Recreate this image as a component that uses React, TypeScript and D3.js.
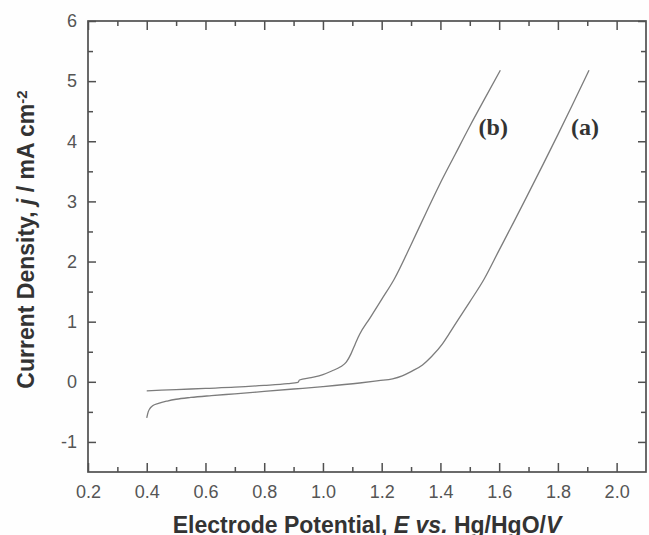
import * as d3 from 'd3'
import { useEffect, useRef } from 'react'

// curve (a): E (V vs Hg/HgO), j (mA cm-2)
const potentialA = [
  0.4, 0.405, 0.41, 0.42, 0.44, 0.47, 0.5, 0.55, 0.62, 0.7, 0.8, 0.9, 1.0, 1.125, 1.19, 1.237, 1.27, 1.3,
  1.339, 1.37, 1.407, 1.43, 1.46, 1.5, 1.549, 1.6, 1.65, 1.691, 1.75, 1.8, 1.85, 1.906,
]
const currentA = [
  -0.6, -0.5, -0.45, -0.4, -0.36, -0.32, -0.29, -0.26, -0.23, -0.2, -0.16, -0.12, -0.08, -0.02, 0.02, 0.05,
  0.1, 0.17, 0.28, 0.42, 0.63, 0.8, 1.03, 1.33, 1.71, 2.19, 2.66, 3.05, 3.62, 4.11, 4.61, 5.18,
]

// curve (b)
const potentialB = [
  0.4, 0.5, 0.6, 0.7, 0.8, 0.88, 0.915, 0.92, 0.96, 1.0, 1.03, 1.06, 1.08, 1.095, 1.11, 1.125, 1.16, 1.2,
  1.243, 1.3, 1.35, 1.396, 1.45, 1.5, 1.55, 1.604,
]
const currentB = [
  -0.15, -0.13, -0.11, -0.09, -0.06, -0.03, -0.01, 0.03, 0.07, 0.12, 0.18, 0.25, 0.33, 0.46, 0.63, 0.79, 1.06,
  1.37, 1.71, 2.28, 2.8, 3.27, 3.78, 4.25, 4.7, 5.18,
]

const xTicks = [0.2, 0.4, 0.6, 0.8, 1.0, 1.2, 1.4, 1.6, 1.8, 2.0]
const xMinor = [0.3, 0.5, 0.7, 0.9, 1.1, 1.3, 1.5, 1.7, 1.9]
const yTicks = [-1, 0, 1, 2, 3, 4, 5, 6]
const yMinor = [-0.5, 0.5, 1.5, 2.5, 3.5, 4.5, 5.5]

const curveLabels = [
  { text: '(b)', x: 1.53, y: 4.1 },
  { text: '(a)', x: 1.845, y: 4.1 },
]

const App = () => {
  const ref = useRef<SVGSVGElement>(null)

  useEffect(() => {
    const width = 649
    const height = 535
    const margin = { top: 21, right: 2, bottom: 63, left: 88 }
    const svg = d3.select(ref.current)
    svg.selectAll('*').remove()
    svg.attr('width', width).attr('height', height)

    svg.append('rect').attr('width', width).attr('height', height).attr('fill', '#fefefe')

    const x = d3.scaleLinear().domain([0.2, 2.1]).range([margin.left, width - margin.right - 1])
    const y = d3.scaleLinear().domain([-1.5, 6]).range([height - margin.bottom, margin.top])

    const axisColor = '#505050'
    const labelColor = '#555'

    const style = (g: any, showLabels: boolean) => {
      g.select('.domain').remove()
      g.selectAll('line').attr('stroke', axisColor).attr('stroke-width', 1.5)
      if (!showLabels) g.selectAll('text').remove()
      else
        g.selectAll('text')
          .attr('fill', labelColor)
          .style('font-family', '"Liberation Sans", Arial, sans-serif')
          .style('font-size', '18px')
    }

    // bottom
    svg
      .append('g')
      .attr('transform', `translate(0, ${y(-1.5)})`)
      .call(d3.axisBottom(x).tickValues(xTicks).tickFormat(d3.format('.1f')).tickSize(-9).tickPadding(13))
      .call((g: any) => style(g, true))
    svg
      .append('g')
      .attr('transform', `translate(0, ${y(-1.5)})`)
      .call(d3.axisBottom(x).tickValues(xMinor).tickSize(-5))
      .call((g: any) => style(g, false))
    // top
    svg
      .append('g')
      .attr('transform', `translate(0, ${y(6)})`)
      .call(d3.axisTop(x).tickValues(xTicks).tickSize(-9))
      .call((g: any) => style(g, false))
    svg
      .append('g')
      .attr('transform', `translate(0, ${y(6)})`)
      .call(d3.axisTop(x).tickValues(xMinor).tickSize(-5))
      .call((g: any) => style(g, false))
    // left
    svg
      .append('g')
      .attr('transform', `translate(${x(0.2)}, 0)`)
      .call(d3.axisLeft(y).tickValues(yTicks).tickFormat((d: any) => String(d)).tickSize(-8).tickPadding(11))
      .call((g: any) => style(g, true))
    svg
      .append('g')
      .attr('transform', `translate(${x(0.2)}, 0)`)
      .call(d3.axisLeft(y).tickValues(yMinor).tickSize(-5))
      .call((g: any) => style(g, false))
    // right
    svg
      .append('g')
      .attr('transform', `translate(${x(2.1)}, 0)`)
      .call(d3.axisRight(y).tickValues(yTicks).tickSize(-8))
      .call((g: any) => style(g, false))
    svg
      .append('g')
      .attr('transform', `translate(${x(2.1)}, 0)`)
      .call(d3.axisRight(y).tickValues(yMinor).tickSize(-5))
      .call((g: any) => style(g, false))

    // frame
    svg
      .append('rect')
      .attr('x', x(0.2))
      .attr('y', y(6))
      .attr('width', x(2.1) - x(0.2))
      .attr('height', y(-1.5) - y(6))
      .attr('fill', 'none')
      .attr('stroke', axisColor)
      .attr('stroke-width', 1.7)

    // curves
    const line = d3
      .line<[number, number]>()
      .x((d) => x(d[0]))
      .y((d) => y(d[1]))
      .curve(d3.curveMonotoneX)

    const series = [
      potentialA.map((e, i) => [e, currentA[i]] as [number, number]),
      potentialB.map((e, i) => [e, currentB[i]] as [number, number]),
    ]
    svg
      .append('g')
      .selectAll('path')
      .data(series)
      .join('path')
      .attr('d', (d) => line(d))
      .attr('fill', 'none')
      .attr('stroke', '#7c7c7c')
      .attr('stroke-width', 1.3)

    svg
      .append('g')
      .selectAll('text')
      .data(curveLabels)
      .join('text')
      .attr('x', (d) => x(d.x))
      .attr('y', (d) => y(d.y))
      .attr('fill', '#333')
      .style('font-family', '"Liberation Serif", "Times New Roman", serif')
      .style('font-weight', 'bold')
      .style('font-size', '24px')
      .text((d) => d.text)

    // axis titles
    const xt = svg
      .append('text')
      .attr('x', (x(0.2) + x(2.1)) / 2)
      .attr('y', 533)
      .attr('text-anchor', 'middle')
      .attr('fill', '#333')
      .style('font-family', '"Liberation Sans", Arial, sans-serif')
      .style('font-weight', 'bold')
      .style('font-size', '23px')
    xt.append('tspan').text('Electrode Potential, ')
    xt.append('tspan').style('font-style', 'italic').text('E vs.')
    xt.append('tspan').text(' Hg/HgO/')
    xt.append('tspan').style('font-style', 'italic').text('V')

    const yt = svg
      .append('text')
      .attr('transform', `translate(34, ${(y(-1.5) + y(6)) / 2 - 7}) rotate(-90)`)
      .attr('text-anchor', 'middle')
      .attr('fill', '#333')
      .style('font-family', '"Liberation Sans", Arial, sans-serif')
      .style('font-weight', 'bold')
      .style('font-size', '23px')
    yt.append('tspan').text('Current Density, ')
    yt.append('tspan').style('font-style', 'italic').text('j')
    yt.append('tspan').text(' / mA cm')
    yt.append('tspan').attr('dy', '-0.5em').style('font-size', '15px').text('-2')
  }, [])

  return (
    <div style={{ position: 'absolute', left: 0, top: 0 }}>
      <svg ref={ref}></svg>
    </div>
  )
}
export default App
